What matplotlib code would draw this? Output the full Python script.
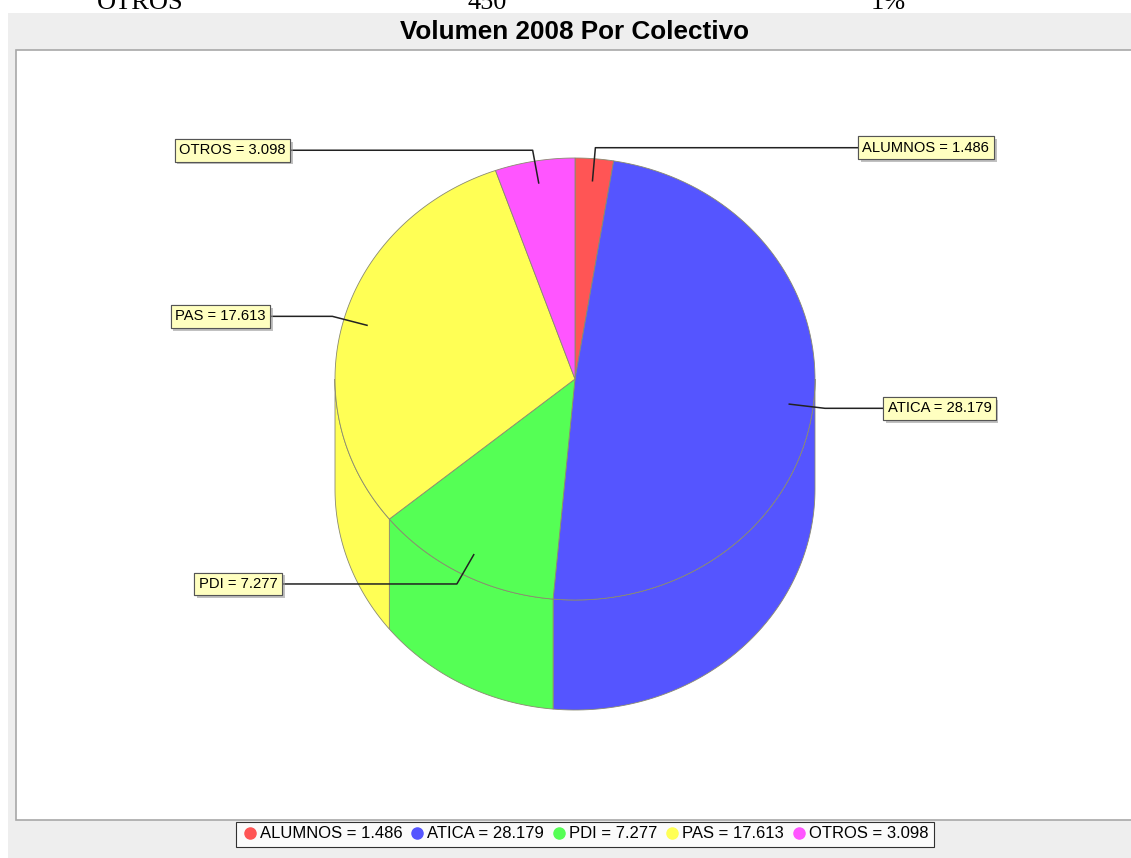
import numpy as np
import matplotlib
matplotlib.use("Agg")
import matplotlib.pyplot as plt
from matplotlib.patches import Polygon, Rectangle
from matplotlib.lines import Line2D
import matplotlib.patheffects as pe

# data
categories = ["ALUMNOS", "ATICA", "PDI", "PAS", "OTROS"]
values = [1.486, 28.179, 7.277, 17.613, 3.098]
value_text = ["1.486", "28.179", "7.277", "17.613", "3.098"]
colors = ["#FF5555", "#5555FF", "#55FF55", "#FFFF55", "#FF55FF"]
title = "Volumen 2008 Por Colectivo"
table_row = ["OTROS", "450", "1%"]

W, H = 1131, 858
fig = plt.figure(figsize=(W / 100, H / 100), dpi=100)
ax = fig.add_axes([0, 0, 1, 1])
ax.set_xlim(0, W)
ax.set_ylim(H, 0)
ax.axis("off")

# leftover row of the html table above the chart image (cut off, as in the page)
for txt, x in zip(table_row, [140, 487, 888]):
    ax.text(x, 9, txt, ha="center", va="baseline", fontsize=19,
            family="Liberation Serif", color="black")

# chart background and plot area
ax.add_patch(Rectangle((8, 13), W, H, fc="#EEEEEE", ec="none"))
ax.add_patch(Rectangle((16, 50), W, 770, fc="white", ec="#A8A8A8", lw=1.2))
ax.text(575, 32, title, ha="center", va="center", fontsize=18.8,
        fontweight="bold", family="Liberation Sans")

# 3D pie geometry (pixels)
cx, cy, rx, ry, depth = 575, 379, 240, 221, 110
edge = "#8A8A70"


def pt(theta, k=1.0, dy=0.0):
    t = np.radians(theta)
    return cx + k * rx * np.cos(t), cy - k * ry * np.sin(t) + dy


total = sum(values)
bounds = 90 - 360 * np.concatenate([[0], np.cumsum(values)]) / total

# side walls (front half only)
for i, c in enumerate(colors):
    hi = min(bounds[i], 0)
    lo = max(bounds[i + 1], -180)
    if lo >= hi:
        continue
    t = np.linspace(hi, lo, 80)
    x1, y1 = pt(t)
    x2, y2 = pt(t[::-1], dy=depth)
    poly = np.column_stack([np.concatenate([x1, x2]), np.concatenate([y1, y2])])
    ax.add_patch(Polygon(poly, closed=True, fc=c, ec=edge, lw=0.6))

# top face
for i, c in enumerate(colors):
    t = np.linspace(bounds[i], bounds[i + 1], 100)
    x, y = pt(t)
    poly = np.column_stack([np.concatenate([[cx], x]), np.concatenate([[cy], y])])
    ax.add_patch(Polygon(poly, closed=True, fc=c, ec=edge, lw=0.6))

# labels with link lines
label_x = [858, 883, 282, 270, 290]
for i, cat in enumerate(categories):
    mid = (bounds[i] + bounds[i + 1]) / 2
    ax_, ay_ = pt(mid, 0.9)
    ex, ey = pt(mid, 1.05)
    ax.plot([ax_, ex, label_x[i]], [ay_, ey, ey], color="#222222", lw=1.1)
    right = np.cos(np.radians(mid)) > 0
    tx = label_x[i] + (4.5 if right else -4.5)
    t = ax.text(tx, ey, f"{cat} = {value_text[i]}", ha="left" if right else "right",
                va="center", fontsize=10.6, family="Liberation Sans",
                bbox=dict(boxstyle="square,pad=0.3", fc="#FFFFC0", ec="#555555", lw=0.8))
    t.get_bbox_patch().set_path_effects(
        [pe.withSimplePatchShadow(offset=(2, -2), shadow_rgbFace="#999999", alpha=0.6),
         pe.Normal()])

# legend
handles = [Line2D([], [], marker="o", ls="", color=c, markersize=8) for c in colors]
labels = [f"{c} = {v}" for c, v in zip(categories, value_text)]
leg = fig.legend(handles, labels, ncol=5, loc="center",
                 bbox_to_anchor=(585 / W, 1 - 834 / H), frameon=True, fancybox=False,
                 edgecolor="black", handletextpad=0.1, columnspacing=0.4,
                 handlelength=1.0, borderpad=0.3,
                 prop=dict(family="Liberation Sans", size=12))
leg.get_frame().set_linewidth(0.8)

fig.savefig("out.png", dpi=100, facecolor="white")
